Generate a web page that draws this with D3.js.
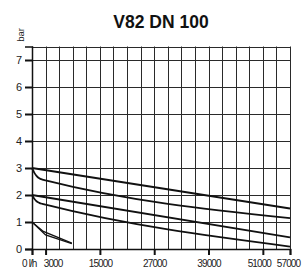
<!DOCTYPE html>
<html><head><meta charset="utf-8">
<script src="https://cdn.jsdelivr.net/npm/d3@7"></script>
<style>body{margin:0;background:#fff}svg{display:block}text{font-family:"Liberation Sans",Arial,sans-serif}</style>
</head><body>
<script>
const title = "V82 DN 100";
const xTickValues = [0, 3000, 15000, 27000, 39000, 51000, 57000];
const xTickLabels = ["0 l/h", "3000", "15000", "27000", "39000", "51000", "57000"];
const yTickValues = [0, 1, 2, 3, 4, 5, 6, 7];
const gridX = d3.range(0, 57001, 3000);
const gridY = [1, 2, 3, 4, 5, 6, 7];
const curve3a = [[0, 3], [57000, 1.5]];
const curve3b = [[0, 3], [500, 2.83], [1000, 2.71], [1600, 2.62], [2300, 2.57], [3000, 2.54], [57000, 1.14]];
const curve2a = [[0, 2], [57000, 0.43]];
const curve2b = [[0, 2], [500, 1.86], [1000, 1.77], [1600, 1.71], [2300, 1.67], [3000, 1.64], [57000, 0.09]];
const curve1a = [[0, 1], [2500, 0.65], [8800, 0.22]];
const curve1b = [[0, 1], [3000, 0.52], [8800, 0.2]];
const smoothCurves = [curve3a, curve3b, curve2a, curve2b];
const straightCurves = [curve1a, curve1b];

const W = 302, H = 269;
const svg = d3.select("body").append("svg").attr("width", W).attr("height", H);
const x = d3.scaleLinear().domain([0, 57000]).range([32, 290]);
const y = d3.scaleLinear().domain([0, 7.5]).range([249, 46.5]);

svg.append("text").attr("x", 161).attr("y", 28).attr("text-anchor", "middle")
  .attr("font-size", 17.5).attr("font-weight", "bold").attr("fill", "#111").text(title);

svg.append("text").attr("transform", "translate(23.5,35) rotate(-90)").attr("text-anchor", "middle")
  .attr("font-size", 9.5).attr("fill", "#222").text("bar");

// grid
const g = svg.append("g");
g.selectAll("line.vx").data(gridX).join("line")
  .attr("x1", d => Math.round(x(d)) + 0.5).attr("x2", d => Math.round(x(d)) + 0.5)
  .attr("y1", y(7.5)).attr("y2", y(0)).attr("stroke", "#2a2a2a").attr("stroke-width", 1);
g.selectAll("line.hy").data(gridY.concat([7.5])).join("line")
  .attr("y1", d => Math.round(y(d)) + 0.5).attr("y2", d => Math.round(y(d)) + 0.5)
  .attr("x1", x(0)).attr("x2", x(57000)).attr("stroke", "#2a2a2a").attr("stroke-width", 1);

// curves
const line = d3.line().x(d => x(d[0])).y(d => y(d[1])).curve(d3.curveMonotoneX);
const lineStraight = d3.line().x(d => x(d[0])).y(d => y(d[1]));
svg.selectAll("path.c").data(smoothCurves).join("path").attr("class", "c")
  .attr("d", line).attr("fill", "none").attr("stroke", "#111").attr("stroke-width", 1.8);
svg.selectAll("path.s").data(straightCurves).join("path").attr("class", "s")
  .attr("d", lineStraight).attr("fill", "none").attr("stroke", "#111").attr("stroke-width", 1.3);

// y axis
const yAxis = svg.append("g").attr("transform", `translate(${x(0)},0)`)
  .call(d3.axisLeft(y).tickValues(yTickValues).tickFormat(d3.format("d")).tickSize(7).tickPadding(3));
yAxis.select(".domain").attr("stroke", "#111").attr("stroke-width", 1.5);
yAxis.selectAll(".tick line").attr("stroke", "#111").attr("stroke-width", 2);
yAxis.selectAll(".tick text").attr("font-size", 11).attr("fill", "#222").attr("font-family", "Liberation Sans, Arial, sans-serif");

// x axis
const xAxis = svg.append("g").attr("transform", `translate(0,${y(0)})`)
  .call(d3.axisBottom(x).tickValues(xTickValues).tickFormat((d, i) => xTickLabels[i]).tickSize(6).tickPadding(5));
xAxis.select(".domain").attr("stroke", "#111").attr("stroke-width", 1.5);
xAxis.selectAll(".tick line").attr("stroke", "#111").attr("stroke-width", 2);
xAxis.selectAll(".tick text").attr("font-size", 10).attr("letter-spacing", "-0.9px").attr("fill", "#222").attr("font-family", "Liberation Sans, Arial, sans-serif");
xAxis.selectAll(".tick text").filter(d => d === 0).attr("text-anchor", "end").attr("dx", 4);
xAxis.selectAll(".tick text").filter(d => d === 3000).attr("dx", 7);
xAxis.selectAll(".tick text").filter(d => d === 51000).attr("dx", -4);
xAxis.selectAll(".tick text").filter(d => d === 57000).attr("dx", -2);
</script>
</body></html>
